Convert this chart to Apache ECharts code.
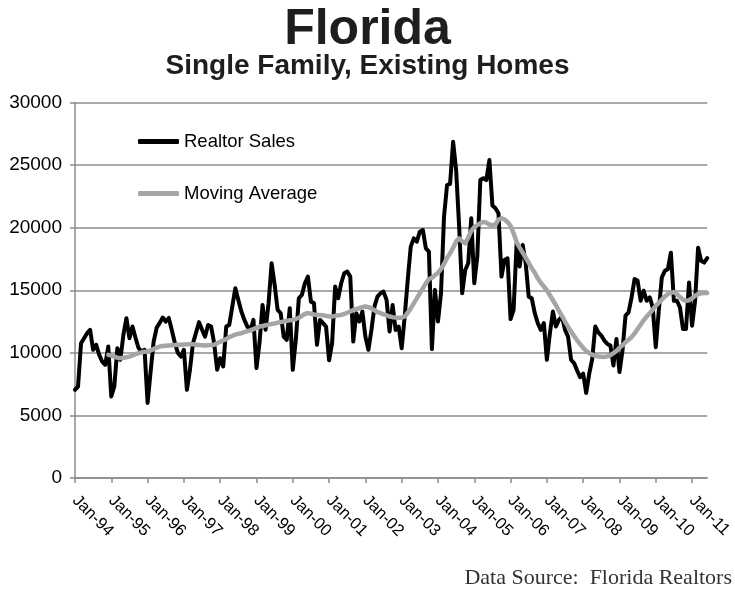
<!DOCTYPE html>
<html>
<head>
<meta charset="utf-8">
<script src="https://cdn.jsdelivr.net/npm/echarts@6/dist/echarts.min.js"></script>
<style>
html,body{margin:0;padding:0;background:#fff;}
#chart{width:735px;height:594px;}
</style>
</head>
<body>
<div id="chart"></div>
<script>
// Tick label parts
var monthNames = ['Jan','Feb','Mar','Apr','May','Jun','Jul','Aug','Sep','Oct','Nov','Dec'];
var yearLabels = ['94','95','96','97','98','99','00','01','02','03','04','05','06','07','08','09','10','11'];
var lastYearMonths = 6; // data runs through Jun-11

// Realtor Sales, monthly from Jan-94
var realtorSales = [
7050,7300,10770,11170,11570,11830,10240,10640,9840,9300,9040,10500,
6510,7310,10370,9440,11440,12770,11170,12100,11200,10390,10100,10240,
6000,8500,10900,12000,12390,12820,12500,12790,11830,10800,10000,9700,
10240,7050,8640,10770,11590,12450,11840,11300,12230,12100,10770,8640,
9580,8910,12100,12230,13690,15160,14230,13300,12630,12100,11840,12630,
8780,10800,13830,11840,13970,17160,15430,13430,13170,11300,11040,13570,
8640,11040,14360,14630,15560,16090,14090,13970,10640,12630,12370,12100,
9400,10770,15290,14360,15560,16360,16490,16090,10900,13170,12500,13300,
11300,10240,11830,13700,14490,14760,14890,14230,11700,13830,11830,12100,
10370,12900,15820,18480,19150,18880,19680,19810,18350,18080,10300,15030,
12500,14760,20880,23400,23500,26860,24600,20080,14760,16620,17160,20750,
15560,17690,23800,23940,23800,25400,21770,21550,21150,16090,17420,17550,
12700,13430,18750,16890,18620,17160,14490,14360,13170,12370,11830,12370,
9440,11570,13300,12100,12640,12900,11830,11300,9440,9180,8590,8060,
8330,6800,8330,9520,12100,11640,11380,10980,10710,10580,8990,11110,
8460,10180,12970,13230,14430,15890,15760,14160,14960,14160,14430,13630,
10450,13370,16020,16550,16680,18000,14160,14160,13630,11910,11910,15620,
12170,14160,18400,17350,17210,17560
];

// Moving Average, monthly from Jan-94 (first 11 months empty)
var movingAverage = [
null,null,null,null,null,null,null,null,null,null,null,9840,
9780,9700,9620,9570,9600,9650,9700,9800,9900,9980,10040,10080,
10110,10200,10300,10420,10500,10540,10560,10580,10600,10620,10640,10650,
10670,10690,10690,10680,10650,10620,10600,10580,10600,10620,10640,10760,
10880,11000,11100,11250,11350,11450,11520,11570,11650,11730,11800,11900,
12000,12100,12150,12200,12250,12300,12350,12400,12450,12500,12550,12600,
12630,12700,12800,12950,13100,13170,13120,13060,13030,13030,13000,12950,
12900,12900,12950,13000,13030,13100,13200,13300,13430,13500,13580,13650,
13700,13650,13550,13400,13250,13170,13080,13000,12900,12850,12820,12800,
12800,12900,13200,13550,13950,14350,14760,15150,15550,15900,16000,16200,
16400,16700,17100,17600,17950,18400,18900,19150,18900,18750,19200,19750,
20050,20200,20350,20450,20400,20250,20200,20250,20650,20750,20650,20450,
20150,19550,18850,18400,18000,17600,17200,16750,16400,15950,15600,15300,
15000,14600,14200,13800,13350,12950,12500,12100,11700,11350,11000,10700,
10400,10150,9980,9850,9760,9700,9680,9670,9720,9820,9980,10150,
10400,10600,10850,11050,11250,11550,11900,12250,12600,12900,13150,13450,
13750,14000,14250,14500,14700,14800,14850,14700,14450,14250,14150,14200,
14350,14550,14700,14750,14780,14780
];

var categories = [];
for (var y = 0; y < yearLabels.length; y++) {
  var nm = (y === yearLabels.length - 1) ? lastYearMonths : 12;
  for (var m = 0; m < nm; m++) categories.push(monthNames[m] + '-' + yearLabels[y]);
}

var gridColor = '#8c8c8c';
var chart = echarts.init(document.getElementById('chart'), null, {renderer: 'canvas'});
chart.setOption({
  backgroundColor: '#ffffff',
  animation: false,
  title: [
    {text: 'Florida', left: 'center', top: 0,
     textStyle: {fontFamily: 'Liberation Sans', fontSize: 50, fontWeight: 'bold', color: '#1e1e1e'}},
    {text: 'Single Family, Existing Homes', left: 'center', top: 47,
     textStyle: {fontFamily: 'Liberation Sans', fontSize: 28, fontWeight: 'bold', color: '#1e1e1e'}},
    {text: 'Data Source:  Florida Realtors', right: -2, top: 562,
     textStyle: {fontFamily: 'Liberation Serif', fontSize: 22, fontWeight: 'normal', color: '#333'}}
  ],
  legend: {
    data: ['Realtor Sales', 'Moving Average'],
    orient: 'vertical', left: 133, top: 127,
    icon: 'roundRect', itemWidth: 41, itemHeight: 5, itemGap: 33,
    textStyle: {fontFamily: 'Liberation Sans', fontSize: 18.5, color: '#000'}
  },
  grid: {left: 75, right: 23, top: 102.5, bottom: 116, containLabel: false},
  xAxis: {
    type: 'category', data: categories, boundaryGap: false,
    axisLine: {lineStyle: {color: gridColor, width: 1.5}},
    axisTick: {show: true, interval: 11, length: 5, lineStyle: {color: gridColor, width: 1.5}},
    axisLabel: {interval: 11, rotate: -45, margin: 20, fontFamily: 'Liberation Sans', fontSize: 16.5, color: '#000'},
    splitLine: {show: false}
  },
  yAxis: {
    type: 'value', min: 0, max: 30000, interval: 5000,
    axisLine: {show: true, lineStyle: {color: gridColor, width: 1.5}},
    axisTick: {show: true, length: 5, lineStyle: {color: gridColor, width: 1.5}},
    axisLabel: {margin: 13, fontFamily: 'Liberation Sans', fontSize: 19, color: '#000',
      formatter: function (v) { return String(v); }},
    splitLine: {show: true, lineStyle: {color: gridColor, width: 1.5}}
  },
  series: [
    {name: 'Realtor Sales', type: 'line', data: realtorSales, symbol: 'none',
     color: '#000000', lineStyle: {color: '#000000', width: 4, join: 'round', cap: 'round'}},
    {name: 'Moving Average', type: 'line', data: movingAverage, symbol: 'none',
     color: '#a5a5a5', lineStyle: {color: '#a5a5a5', width: 4.5, join: 'round', cap: 'round'}}
  ]
});
</script>
</body>
</html>
